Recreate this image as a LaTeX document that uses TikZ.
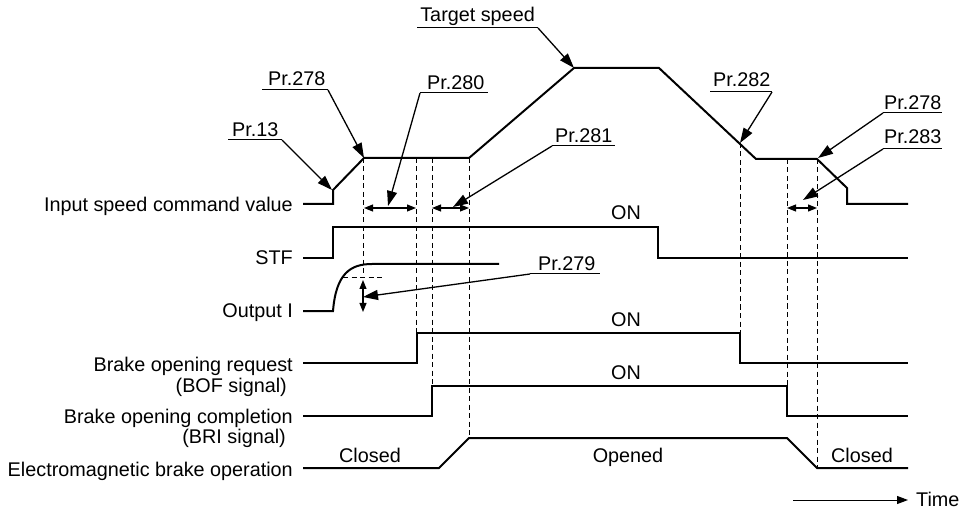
\documentclass[tikz,border=0pt]{standalone}
\usepackage{fontspec}
\setmainfont{Liberation Sans}
\usetikzlibrary{arrows.meta}
\begin{document}
\begin{tikzpicture}[x=1pt,y=-1pt,
  sig/.style={line width=2pt, line join=miter},
  lead/.style={line width=1.3pt, -{Triangle[length=15pt,width=10pt]}},
  dim/.style={line width=1.1pt, {Triangle[length=9pt,width=7pt]}-{Triangle[length=9pt,width=7pt]}},
  guide/.style={line width=1pt, dash pattern=on 5pt off 3.5pt},
  lbl/.style={inner sep=0pt, font=\fontsize{19.8}{21}\selectfont},
  ul/.style={line width=1pt},
  tarrow/.style={line width=1pt, -{Triangle[length=11pt,width=8pt]}}
]
\useasboundingbox (0,0) rectangle (960,510);

% ---- row labels ----
\node[lbl, anchor=base east] (lin) at (293,212) {Input speed command value};
\node[lbl, anchor=base east] (lstf) at (293,265) {STF};
\node[lbl, anchor=base east] (lout) at (293,317) {Output I};
\node[lbl, anchor=base east] (lbof) at (293,371) {Brake opening request};
\node[lbl, anchor=base east] (lbof2) at (287,392) {(BOF signal)};
\node[lbl, anchor=base east] (lbri) at (293,423) {Brake opening completion};
\node[lbl, anchor=base east] (lbri2) at (286,443) {(BRI signal)};
\node[lbl, anchor=base east] (lem) at (293,476) {Electromagnetic brake operation};

% ---- guide lines ----
\draw[guide] (363,158) -- (363,278);
\draw[guide] (343,278) -- (385,278);
\draw[guide] (416,158) -- (416,333);
\draw[guide] (432,158) -- (432,386);
\draw[guide] (469,158) -- (469,438);
\draw[guide] (740,143) -- (740,363);
\draw[guide] (787,159) -- (787,416);
\draw[guide] (817,159) -- (817,468);

% ---- signals ----
\draw[sig] (303,204) -- (333,204) -- (333,190) -- (364,158) -- (469,158) -- (574,68)
  -- (659,68) -- (756,159) -- (817,159) -- (847,188) -- (847,204) -- (908,204);
\draw[sig] (303,258) -- (333,258) -- (333,227) -- (658,227) -- (658,258) -- (908,258);
\draw[sig] (303,311) -- (333,311) .. controls (336,274) and (350,264) .. (372,264) -- (499,264);
\draw[sig] (303,363) -- (417,363) -- (417,333) -- (740,333) -- (740,363) -- (908,363);
\draw[sig] (303,416) -- (432,416) -- (432,386) -- (787,386) -- (787,416) -- (908,416);
\draw[sig] (303,468) -- (439,468) -- (469,438) -- (787,438) -- (817,468) -- (908,468);

% ---- state texts ----
\node[lbl, anchor=base] (on1) at (626,220) {ON};
\node[lbl, anchor=base] (on2) at (626,326) {ON};
\node[lbl, anchor=base] (on3) at (626,379) {ON};
\node[lbl, anchor=base] (cl1) at (370,462) {Closed};
\node[lbl, anchor=base] (op) at (628,462) {Opened};
\node[lbl, anchor=base] (cl2) at (862,462) {Closed};

% ---- dimension arrows ----
\coordinate (d1a) at (364,208); \coordinate (d1b) at (416,208);
\coordinate (d2a) at (432,208); \coordinate (d2b) at (469,208);
\coordinate (d3a) at (787,208); \coordinate (d3b) at (817,208);
\coordinate (d4a) at (363,280); \coordinate (d4b) at (363,312);
\draw[dim] (d1a) -- (d1b);
\draw[dim] (d2a) -- (d2b);
\draw[dim] (d3a) -- (d3b);
\draw[dim] (d4a) -- (d4b);

% ---- parameter labels ----
\node[lbl, anchor=base west] (p13) at (232,137) {Pr.13};
\coordinate (u13a) at (228,140); \coordinate (u13b) at (282,140); \coordinate (t13) at (332,190);
\draw[ul] (u13a) -- (u13b); \draw[lead] (u13b) -- (t13);

\node[lbl, anchor=base west] (p278) at (268,86) {Pr.278};
\coordinate (u278a) at (262,90); \coordinate (u278b) at (328,90); \coordinate (t278) at (364,158);
\draw[ul] (u278a) -- (u278b); \draw[lead] (u278b) -- (t278);

\node[lbl, anchor=base west] (p280) at (427,90) {Pr.280};
\coordinate (u280a) at (420,93); \coordinate (u280b) at (488,93); \coordinate (t280) at (388,206);
\draw[ul] (u280a) -- (u280b); \draw[lead] (u280a) -- (t280);

\node[lbl, anchor=base east] (pts) at (535,22) {Target speed};
\coordinate (utsa) at (417,28); \coordinate (utsb) at (538,28); \coordinate (tts) at (574,68);
\draw[ul] (utsa) -- (utsb); \draw[lead] (utsb) -- (tts);

\node[lbl, anchor=base west] (p281) at (555,143) {Pr.281};
\coordinate (u281a) at (552,146); \coordinate (u281b) at (615,146); \coordinate (t281) at (453,207);
\draw[ul] (u281a) -- (u281b); \draw[lead] (u281a) -- (t281);

\node[lbl, anchor=base west] (p279) at (538,271) {Pr.279};
\coordinate (u279a) at (530,274); \coordinate (u279b) at (600,274); \coordinate (t279) at (363,297);
\draw[ul] (u279a) -- (u279b); \draw[lead] (u279a) -- (t279);

\node[lbl, anchor=base west] (p282) at (713,87) {Pr.282};
\coordinate (u282a) at (710,92); \coordinate (u282b) at (772,92); \coordinate (t282) at (740,143);
\draw[ul] (u282a) -- (u282b); \draw[lead] (u282b) -- (t282);

\node[lbl, anchor=base west] (p278r) at (884,110) {Pr.278};
\coordinate (u278ra) at (883,113); \coordinate (u278rb) at (942,113); \coordinate (t278r) at (818,158);
\draw[ul] (u278ra) -- (u278rb); \draw[lead] (u278ra) -- (t278r);

\node[lbl, anchor=base west] (p283) at (884,144) {Pr.283};
\coordinate (u283a) at (883,149); \coordinate (u283b) at (942,149); \coordinate (t283) at (803,200);
\draw[ul] (u283a) -- (u283b); \draw[lead] (u283a) -- (t283);

% ---- time axis ----
\node[lbl, anchor=base west] (time) at (916,506) {Time};
\coordinate (ta) at (793,500); \coordinate (tb) at (908,500);
\draw[tarrow] (ta) -- (tb);
\end{tikzpicture}
\end{document}
